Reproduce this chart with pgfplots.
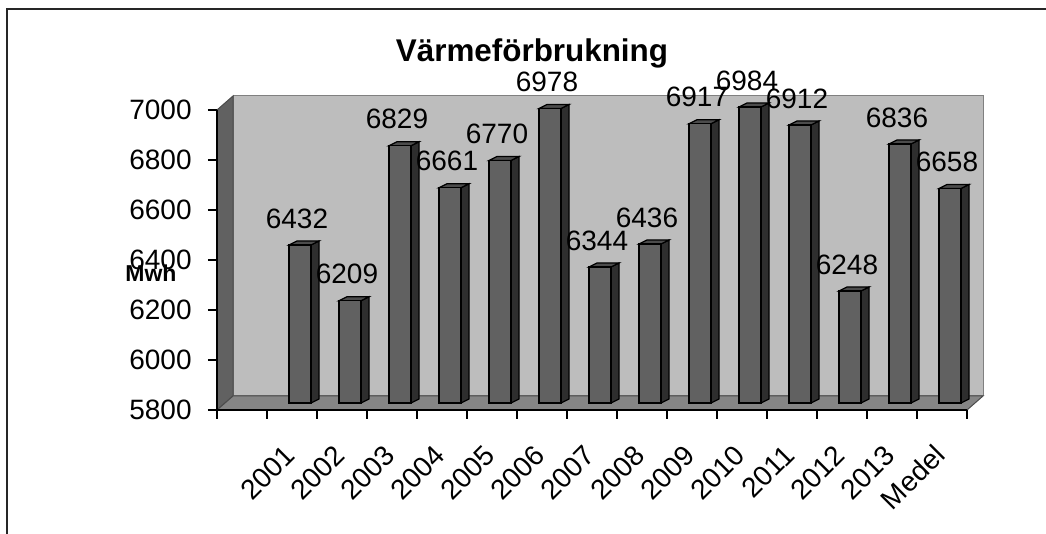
\documentclass[border=0pt]{standalone}
\usepackage{fontspec}
\setmainfont{Liberation Sans}
\usepackage{pgfplots}
\usepackage{pgfplotstable}
\pgfplotsset{compat=1.18}

\definecolor{backwall}{gray}{0.74}
\definecolor{leftwall}{gray}{0.38}
\definecolor{floorc}{gray}{0.52}
\definecolor{barfront}{gray}{0.38}
\definecolor{barside}{gray}{0.18}
\definecolor{bartop}{gray}{0.30}

\pgfplotstableread{
x v
1 6432
2 6209
3 6829
4 6661
5 6770
6 6978
7 6344
8 6436
9 6917
10 6984
11 6912
12 6248
13 6836
14 6658
}\datatable

% 3D column drawn at the data point (front plane): front, side and top faces
\pgfdeclareplotmark{bar3d}{%
  \pgfmathsetmacro\yb{3.5-\barh}%
  \pgfsetlinewidth{0.6pt}%
  \pgfsetstrokecolor{black}%
  \pgfsetfillcolor{barside}%
  \pgfpathmoveto{\pgfpoint{9.5pt}{\yb pt}}%
  \pgfpathlineto{\pgfpoint{13.5pt}{\yb pt+2pt}}%
  \pgfpathlineto{\pgfpoint{13.5pt}{5.5pt}}%
  \pgfpathlineto{\pgfpoint{9.5pt}{3.5pt}}%
  \pgfpathclose
  \pgfusepath{fill,stroke}%
  \pgfsetfillcolor{bartop}%
  \pgfpathmoveto{\pgfpoint{-1.5pt}{3.5pt}}%
  \pgfpathlineto{\pgfpoint{9.5pt}{3.5pt}}%
  \pgfpathlineto{\pgfpoint{13.5pt}{5.5pt}}%
  \pgfpathlineto{\pgfpoint{2.5pt}{5.5pt}}%
  \pgfpathclose
  \pgfusepath{fill,stroke}%
  \pgfsetfillcolor{barfront}%
  \pgfpathrectanglecorners{\pgfpoint{-1.5pt}{\yb pt}}{\pgfpoint{9.5pt}{3.5pt}}%
  \pgfusepath{fill,stroke}%
}

\begin{document}
\begin{tikzpicture}
\useasboundingbox (0,0) rectangle (523pt,267pt);
\draw[line width=0.8pt, black!85] (3.5pt,-2pt) -- (3.5pt,262.5pt) -- (530pt,262.5pt);
\node[anchor=base, font=\bfseries\fontsize{15.7}{18}\selectfont, inner sep=0pt] at (266pt,236pt) {Värmeförbrukning};
\begin{axis}[
  at={(108.5pt,62pt)}, anchor=south west,
  scale only axis, width=375pt, height=150pt,
  xmin=-0.5, xmax=14.5, ymin=5800, ymax=7000,
  enlargelimits=false, clip=false, axis on top,
  axis x line*=bottom, axis y line*=left,
  axis line style={black, line width=0.6pt},
  /pgf/number format/.cd, 1000 sep={}, assume math mode=true, /pgfplots/.cd,
  scaled y ticks=false,
  ytick={5800,6000,...,7000},
  ytick align=outside, xtick align=outside,
  major tick length=4.5pt, minor tick length=4.5pt,
  tick style={black, line width=0.6pt},
  xtick={1,...,14},
  xticklabels={2001,2002,2003,2004,2005,2006,2007,2008,2009,2010,2011,2012,2013,Medel},
  major x tick style={draw=none},
  minor xtick={-0.5,0.5,...,14.5},
  ticklabel style={font=\fontsize{14}{16}\selectfont},
  yticklabel style={anchor=east, inner sep=0pt, xshift=-8pt},
  xticklabel style={yshift=-15.5pt, xshift=-1pt, rotate=45, anchor=east, inner sep=0pt},
]
\fill[backwall, draw=gray, line width=0.5pt] ([xshift=8pt,yshift=7pt]rel axis cs:0,0) rectangle ([xshift=8pt,yshift=7pt]rel axis cs:1,1);
\fill[leftwall, draw=black!70, line width=0.5pt] (rel axis cs:0,0) -- (rel axis cs:0,1) -- ([xshift=8pt,yshift=7pt]rel axis cs:0,1) -- ([xshift=8pt,yshift=7pt]rel axis cs:0,0) -- cycle;
\fill[floorc, draw=black!70, line width=0.5pt] (rel axis cs:0,0) -- (rel axis cs:1,0) -- ([xshift=8pt,yshift=7pt]rel axis cs:1,0) -- ([xshift=8pt,yshift=7pt]rel axis cs:0,0) -- cycle;
\addplot[
  scatter, only marks, mark=bar3d,
  scatter/@pre marker code/.code={\scope},
  scatter/@post marker code/.code={\endscope},
  visualization depends on={(\thisrow{v}-5800)*0.125 \as \barh},
  point meta=y,
  nodes near coords,
  every node near coord/.append style={anchor=south, inner sep=0pt, yshift=11.5pt, xshift=2.5pt, text=black, font=\fontsize{14}{16}\selectfont},
] table[x=x, y=v] {\datatable};
\end{axis}
\node[anchor=base west, font=\bfseries\fontsize{11.5}{14}\selectfont, inner sep=0pt] at (62.5pt,126pt) {Mwh};
\end{tikzpicture}
\end{document}
